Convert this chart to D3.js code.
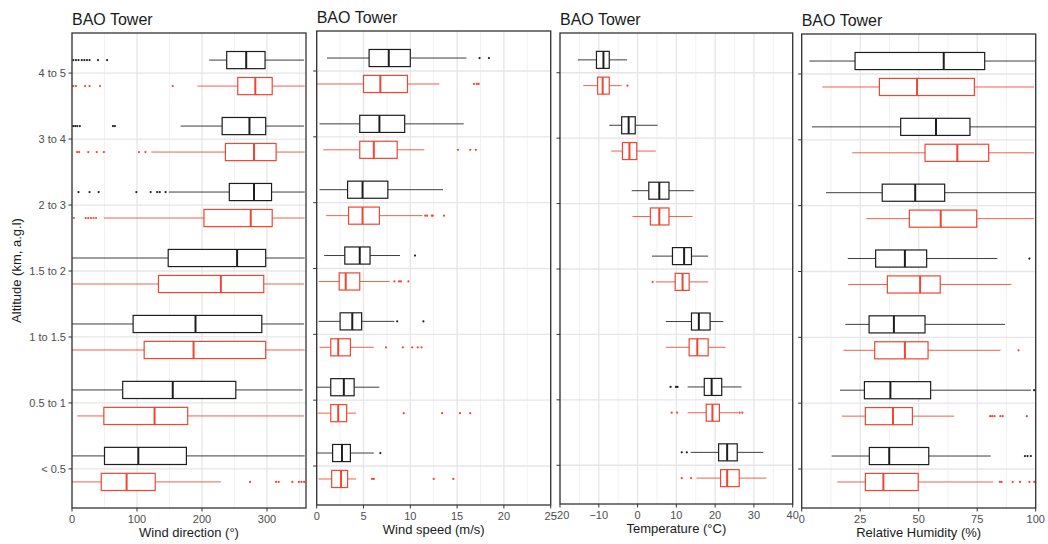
<!DOCTYPE html>
<html><head><meta charset="utf-8">
<script src="https://cdn.jsdelivr.net/npm/d3@7"></script>
<style>body{margin:0;background:#fff} text{font-family:"Liberation Sans",Arial,Helvetica,sans-serif}</style>
</head><body><svg id="c" width="1048" height="544"></svg>
<script>
// ---------- data ----------
const categories = ["4 to 5","3 to 4","2 to 3","1.5 to 2","1 to 1.5","0.5 to 1","< 0.5"];
const seriesNames = ["black","red"];

// [whisker low, Q1, median, Q3, whisker high]
const dirBlack = [[211,238,268,297,357],[167,231,273,298,357],[149,242,280,307,358],[0,148,254,298,358],[0,94,190,292,357],[0,78,155,252,355],[0,50,102,176,358]];
const dirRed   = [[193,255,282,308,358],[122,236,280,314,358],[49,203,275,308,358],[0,133,229,295,357],[0,111,187,298,358],[8,49,127,178,357],[0,45,84,128,229]];
const dirOutBlack = [[2,6,10,15,19,23,27,40,54],[2,5,8,12,63,66],[10,27,41,99,121,131,135,144],[],[],[],[]];
const dirOutRed   = [[2,6,20,27,43,155],[8,11,25,38,49,103,113],[3,21,25,29,33,37],[],[],[],[274,314,318,339,349,353,357]];

const wsBlack = [[1.1,5.6,7.7,10.0,16.0],[0.3,4.6,6.7,9.4,15.7],[0.3,3.3,4.9,7.6,13.5],[0.8,3.0,4.6,5.7,8.9],[0.2,2.5,3.8,4.8,8.3],[0.0,1.5,2.9,4.0,6.7],[0.0,1.7,2.7,3.6,6.1]];
const wsRed   = [[0.0,5.0,6.8,9.7,13.1],[0.7,4.6,6.1,8.6,11.5],[1.0,3.4,4.9,6.7,11.3],[0.2,2.4,3.1,4.6,7.8],[0.3,1.5,2.3,3.6,6.1],[0.1,1.5,2.3,3.2,4.2],[0.2,1.6,2.6,3.3,4.2]];
const wsOutBlack = [[17.4,18.4],[],[],[10.5],[8.6,11.4],[],[6.8]];
const wsOutRed   = [[16.8,17.1,17.3],[15.1,16.4,17.0],[11.6,11.8,12.3,12.4,13.6],[8.3,8.8,9.0,9.8],[7.4,9.2,10.2,10.8,11.2],[9.3,13.4,15.3,16.4],[5.9,6.1,12.5,14.6]];

const tBlack = [[-15.4,-10.6,-8.8,-7.3,-2.7],[-7.3,-4.1,-2.3,-0.6,5.2],[-1.5,2.9,5.6,8.1,14.5],[3.7,9.0,12.0,13.9,18.2],[7.3,13.9,15.8,18.7,22.1],[12.9,17.2,19.1,21.7,26.8],[13.7,20.9,23.1,25.7,32.4]];
const tRed   = [[-14.0,-10.3,-9.0,-7.3,-4.1],[-6.8,-3.9,-2.1,-0.2,4.7],[-1.3,3.3,5.6,8.1,14.2],[4.7,9.7,11.6,13.3,18.2],[7.3,13.3,15.4,18.2,22.7],[12.9,17.7,19.3,21.1,25.9],[15.2,21.4,23.1,26.2,33.2]];
const tOutBlack = [[],[],[],[],[],[8.5,9.9,10.3],[11.4,12.7]];
const tOutRed   = [[-2.6],[],[],[3.9],[],[8.8,10.2,26.3,27.0],[11.4,13.8]];

const rhBlack = [[3.3,22.8,60.7,78.2,100],[4.4,42.3,57.4,71.9,100],[10.4,34.4,48.5,61.1,100],[19.7,31.6,44.1,53.4,83.6],[18.6,28.8,39.4,52.7,86.9],[16.4,26.8,37.9,55.1,98.0],[12.8,28.9,37.4,54.3,80.8]];
const rhRed   = [[8.8,33.2,49.3,73.8,99.3],[21.6,52.7,66.5,79.9,99.3],[27.6,46.0,59.4,74.8,99.3],[19.9,36.6,50.6,59.2,89.6],[17.8,31.2,44.1,54.0,85.0],[17.1,27.2,39.0,47.3,65.2],[15.2,27.2,34.9,49.8,81.9]];
const rhOutBlack = [[],[],[],[97.3],[],[99.3],[95.4,96.5,97.9]];
const rhOutRed   = [[],[],[],[],[92.7],[80.5,81.4,82.4,84.9,85.9,96.2],[84.7,85.4,90.2,93.3,97.3,99.4]];

const titles = ["BAO Tower","BAO Tower","BAO Tower","BAO Tower"];
const xLabels = ["Wind direction (°)","Wind speed (m/s)","Temperature (°C)","Relative Humidity (%)"];
const xDomains = [[0,360],[0,25],[-20,40],[0,100]];
const xTicks = [[0,100,200,300],[0,5,10,15,20,25],[-20,-10,0,10,20,30,40],[0,25,50,75,100]];
const xMinor = [[50,150,250,350],[2.5,7.5,12.5,17.5,22.5],[-15,-5,5,15,25,35],[12.5,37.5,62.5,87.5]];
const yLabel = "Altitude (km, a.g.l)";

// ---------- layout (not data) ----------
const layout = [
  {x0:72, x1:306, y0:33, y1:508},
  {x0:316.7, x1:550.7, y0:31, y1:505},
  {x0:560, x1:792.7, y0:33, y1:504},
  {x0:801.7, x1:1035.7, y0:34, y1:508}
];
const colors = {black:"#1e1e1e", red:"#EE4632"};
const panelData = [
  {stats:[dirBlack,dirRed], outs:[dirOutBlack,dirOutRed]},
  {stats:[wsBlack,wsRed], outs:[wsOutBlack,wsOutRed]},
  {stats:[tBlack,tRed], outs:[tOutBlack,tOutRed]},
  {stats:[rhBlack,rhRed], outs:[rhOutBlack,rhOutRed]}
];

const svg = d3.select("#c");
const fmt = d3.format("");

layout.forEach((L, pi) => {
  const g = svg.append("g");
  const x = d3.scaleLinear().domain(xDomains[pi]).range([L.x0, L.x1]);
  const y = d3.scalePoint().domain(categories).range([L.y0, L.y1]).padding(0.6);
  const step = y.step();
  const off = step * 0.197, bh = step * 0.26;

  // grid
  g.selectAll(".minor").data(xMinor[pi]).join("line")
    .attr("x1", d => x(d)).attr("x2", d => x(d)).attr("y1", L.y0).attr("y2", L.y1)
    .attr("stroke", "#efefef").attr("stroke-width", 0.8);
  g.selectAll(".major").data(xTicks[pi]).join("line")
    .attr("x1", d => x(d)).attr("x2", d => x(d)).attr("y1", L.y0).attr("y2", L.y1)
    .attr("stroke", "#e6e6e6").attr("stroke-width", 1.3);
  g.selectAll(".hgrid").data(categories).join("line")
    .attr("x1", L.x0).attr("x2", L.x1).attr("y1", d => y(d) + 0.5).attr("y2", d => y(d) + 0.5)
    .attr("stroke", "#e6e6e6").attr("stroke-width", 1.3);

  // boxes
  seriesNames.forEach((s, si) => {
    const col = colors[s];
    const stats = panelData[pi].stats[si];
    const outs = panelData[pi].outs[si];
    categories.forEach((c, ci) => {
      const [lo, q1, md, q3, hi] = stats[ci];
      const cy = y(c) + 0.5 + (si === 0 ? -off : off);
      g.append("line").attr("x1", x(lo)).attr("x2", x(q1)).attr("y1", cy).attr("y2", cy)
        .attr("stroke", col).attr("stroke-width", 1).attr("opacity", 0.85);
      g.append("line").attr("x1", x(q3)).attr("x2", x(hi)).attr("y1", cy).attr("y2", cy)
        .attr("stroke", col).attr("stroke-width", 1).attr("opacity", 0.85);
      g.append("rect").attr("x", x(q1)).attr("y", cy - bh / 2).attr("width", x(q3) - x(q1)).attr("height", bh)
        .attr("fill", "#fff").attr("stroke", col).attr("stroke-width", 1.2);
      g.append("line").attr("x1", x(md)).attr("x2", x(md)).attr("y1", cy - bh / 2).attr("y2", cy + bh / 2)
        .attr("stroke", col).attr("stroke-width", 2);
      g.selectAll(null).data(outs[ci]).join("circle")
        .attr("cx", d => x(d)).attr("cy", cy).attr("r", 1.1).attr("fill", col);
    });
  });

  // frame
  g.append("rect").attr("x", L.x0).attr("y", L.y0).attr("width", L.x1 - L.x0).attr("height", L.y1 - L.y0)
    .attr("fill", "none").attr("stroke", "#333").attr("stroke-width", 1.3);

  // x axis ticks + labels
  g.selectAll(".xt").data(xTicks[pi]).join("line")
    .attr("x1", d => x(d)).attr("x2", d => x(d)).attr("y1", L.y1).attr("y2", L.y1 + 3.5)
    .attr("stroke", "#333").attr("stroke-width", 1);
  g.selectAll(".xl").data(xTicks[pi]).join("text")
    .attr("x", d => x(d)).attr("y", L.y1 + 14.5).attr("text-anchor", "middle")
    .attr("font-size", 11).attr("fill", "#4d4d4d").text(d => d3.format("")(d).replace("-", "\u2212"));
  g.append("text").attr("x", (L.x0 + L.x1) / 2).attr("y", L.y1 + 29).attr("text-anchor", "middle")
    .attr("font-size", 13).attr("fill", "#1a1a1a").text(xLabels[pi]);

  // y ticks
  g.selectAll(".yt").data(categories).join("line")
    .attr("x1", L.x0 - 3.5).attr("x2", L.x0).attr("y1", d => y(d) + 0.5).attr("y2", d => y(d) + 0.5)
    .attr("stroke", "#333").attr("stroke-width", 1);
  if (pi === 0) {
    g.selectAll(".yl").data(categories).join("text")
      .attr("x", L.x0 - 6).attr("y", d => y(d) + 4.5).attr("text-anchor", "end")
      .attr("font-size", 11).attr("fill", "#4d4d4d").text(d => d);
    g.append("text").attr("transform", `translate(21,${(L.y0 + L.y1) / 2}) rotate(-90)`)
      .attr("text-anchor", "middle").attr("font-size", 13).attr("fill", "#1a1a1a").text(yLabel);
  }

  // title
  g.append("text").attr("x", L.x0).attr("y", L.y0 - 8).attr("font-size", 16).attr("fill", "#1a1a1a").text(titles[pi]);
});
</script></body></html>
